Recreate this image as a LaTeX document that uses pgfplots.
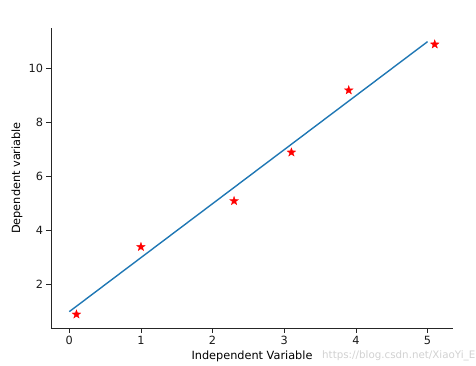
\documentclass[border=0pt]{standalone}
\usepackage{pgfplots}
\pgfplotsset{compat=1.18}
\usepackage{fontspec}
\setmainfont{DejaVu Sans}
\definecolor{mplblue}{HTML}{1F77B4}
\pgfdeclareplotmark{fstar}{%
  \pgfpathmoveto{\pgfpointpolar{90}{\pgfplotmarksize}}%
  \pgfpathlineto{\pgfpointpolar{126}{0.4\pgfplotmarksize}}%
  \pgfpathlineto{\pgfpointpolar{162}{\pgfplotmarksize}}%
  \pgfpathlineto{\pgfpointpolar{198}{0.4\pgfplotmarksize}}%
  \pgfpathlineto{\pgfpointpolar{234}{\pgfplotmarksize}}%
  \pgfpathlineto{\pgfpointpolar{270}{0.4\pgfplotmarksize}}%
  \pgfpathlineto{\pgfpointpolar{306}{\pgfplotmarksize}}%
  \pgfpathlineto{\pgfpointpolar{342}{0.4\pgfplotmarksize}}%
  \pgfpathlineto{\pgfpointpolar{18}{\pgfplotmarksize}}%
  \pgfpathlineto{\pgfpointpolar{54}{0.4\pgfplotmarksize}}%
  \pgfpathclose
  \pgfusepathqfillstroke}
\begin{document}
\begin{tikzpicture}
\begin{axis}[
  scale only axis,
  width=402pt, height=300pt,
  xmin=-0.255, xmax=5.355,
  ymin=0.395, ymax=11.505,
  xtick={0,1,2,3,4,5},
  ytick={2,4,6,8,10},
  axis x line*=bottom,
  axis y line*=left,
  axis line style={-, line width=0.9pt, black!85},
  tick align=outside,
  major tick length=4.5pt,
  tick style={black!85, line width=0.8pt},
  /pgf/number format/assume math mode=true,
  ticklabel style={font=\fontsize{11.3}{13}\selectfont, text=black!90},
  xlabel={Independent Variable},
  ylabel={Dependent variable},
  every axis y label/.style={at={(axis description cs:-0.0846,0.5)}, rotate=90, anchor=center, font=\fontsize{11.3}{13}\selectfont},
  every axis x label/.style={at={(axis description cs:0.5,-0.0933)}, anchor=center, font=\fontsize{11.3}{13}\selectfont},
  clip=false,
]
\addplot[mplblue, line width=1.4pt, no marks] coordinates {(0,1) (5,11)};
\addplot[only marks, mark=fstar, mark size=4.6pt, red, mark options={fill=red, line width=0.3pt}] coordinates {
(0.1,0.9) (1,3.4) (2.3,5.1) (3.1,6.9) (3.9,9.2) (5.1,10.9)};
\end{axis}
\node[anchor=west, text=black!18, font=\fontsize{10.3}{12}\selectfont, inner sep=0pt] at ([shift={(271pt,-28pt)}]current axis.south west) {https://blog.csdn.net/XiaoYi\_E};
\pgfresetboundingbox
\path[use as bounding box] ([shift={(-51pt,-37pt)}]current axis.south west) rectangle ([shift={(23pt,28pt)}]current axis.north east);
\end{tikzpicture}
\end{document}
